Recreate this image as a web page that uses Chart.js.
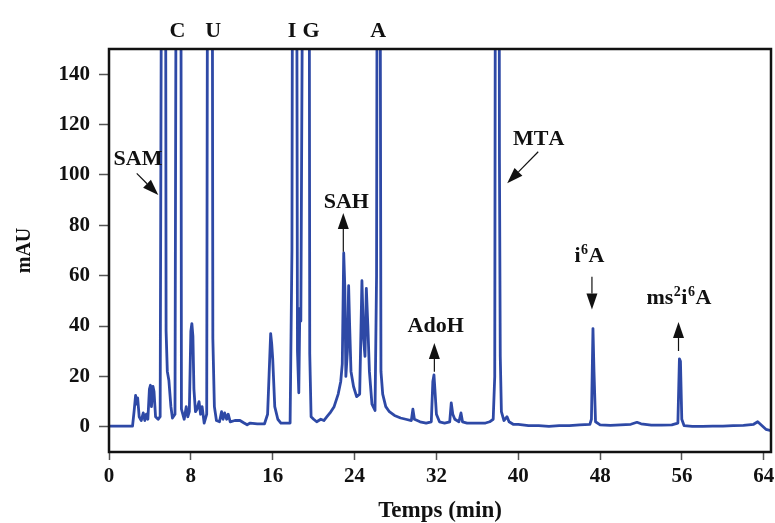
<!DOCTYPE html>
<html>
<head>
<meta charset="utf-8">
<script src="https://cdn.jsdelivr.net/npm/chart.js@4.4.1/dist/chart.umd.min.js"></script>
<style>
  html, body { margin: 0; padding: 0; background: #fff; }
  #chrom { display: block; }
</style>
</head>
<body>
<canvas id="chrom" width="775" height="523"></canvas>
<script>
// retention time (min) and absorbance (mAU)
const timeMin = [
  0, 2.3, 2.45, 2.6, 2.7, 2.8, 2.95, 3.15, 3.35, 3.5, 3.65, 3.8, 3.95, 4.05, 4.15, 4.3, 4.4, 4.55, 4.8, 5.0,
  5.2, 5.5, 5.58, 5.7, 5.85, 6.05, 6.2, 6.45,
  6.62, 7.0, 7.08, 7.35, 7.55, 7.7, 7.85, 8.0, 8.1, 8.2, 8.3, 8.45, 8.6, 8.8, 8.95, 9.1, 9.3, 9.55,
  9.67, 10.06, 10.15, 10.3, 10.5, 10.8, 11.0, 11.15, 11.3, 11.5, 11.65, 11.85, 12.3, 12.8, 13.2, 13.5, 13.8, 14.5, 15.2,
  15.5, 15.65, 15.8, 15.9, 16.0, 16.2, 16.5, 16.8, 17.7, 17.88,
  17.98, 18.3, 18.42, 18.55, 18.65, 18.75, 19.05, 19.54, 19.62, 19.75,
  20.0, 20.3, 20.7, 21.0, 21.3, 21.6, 22.0, 22.4, 22.65, 22.8, 22.94, 23.05, 23.15, 23.3, 23.42, 23.52, 23.65, 23.9,
  24.2, 24.5, 24.72, 24.88, 25.02, 25.15, 25.3, 25.45, 25.7, 26.0, 26.15,
  26.25, 26.45, 26.58, 26.75, 27.05, 27.4, 27.9, 28.5, 29.0, 29.55, 29.7, 29.85, 30.4, 31.0, 31.5,
  31.65, 31.76, 31.85, 32.0, 32.3, 32.8, 33.3, 33.45, 33.6, 33.8, 34.2, 34.4, 34.55, 35.0, 36.0, 36.8, 37.2, 37.55, 37.7,
  37.8, 38.1, 38.16, 38.24, 38.35, 38.6, 38.9, 39.1, 39.5, 40, 41, 42, 43, 44, 45, 46, 47,
  47.15, 47.3, 47.4, 47.55, 48, 49, 50, 51, 51.6, 52, 53, 54, 55, 55.6,
  55.75, 55.85, 55.98, 56.2, 57, 58, 59, 60, 61, 62, 63, 63.4, 63.8, 64.2, 64.7
];
const absMau = [
  0.3, 0.3, 6, 12.5, 9, 11.5, 4, 2.5, 5.5, 2.5, 5, 3, 15, 16.5, 8, 16, 14, 4, 3, 4,
  300, 300, 38, 22, 18.5, 8, 3.5, 5,
  300, 300, 7, 3, 8, 4, 6, 38, 41, 36, 15, 6, 7, 10, 5, 8, 1.5, 5,
  300, 300, 35, 8, 2.5, 2, 6, 3, 5.5, 3, 5, 2, 2.5, 2.5, 1.5, 0.8, 1.5, 1.2, 1.2,
  5, 21, 37, 33, 27, 8, 3, 1.5, 1.5, 70,
  300, 300, 30, 13.5, 47, 42, 300, 300, 29, 4,
  3, 2, 3, 2.5, 4, 5.5, 8, 13, 18, 25, 69, 55, 20, 30, 56, 40, 22, 16,
  12, 13, 58, 35, 28, 55, 40, 22, 9, 6.5, 60,
  300, 300, 22, 13, 8, 6, 4.5, 3.5, 3, 2.5, 7, 3, 2, 1.5, 2,
  18, 20.6, 15, 5, 2, 1.5, 2, 9.5, 5, 3, 2, 5.5, 2, 1.5, 1.5, 1.5, 2, 3, 20,
  300, 300, 106, 28, 6, 2.5, 4, 2, 1, 1, 0.5, 0.5, 0.2, 0.5, 0.5, 0.8, 1,
  3, 39, 22, 2, 0.8, 0.6, 0.8, 1, 1.8, 1.2, 0.7, 0.7, 0.8, 1.5,
  27, 26, 3, 0.5, 0.2, 0.2, 0.3, 0.3, 0.5, 0.6, 1, 2, 0.5, -1, -1.5
];

const xTicks = [0, 8, 16, 24, 32, 40, 48, 56, 64];
const yTicks = [0, 20, 40, 60, 80, 100, 120, 140];

// peak names written above the frame
const topNames = ['C', 'U', 'I', 'G', 'A'];
const topNameTimes = [6.69, 10.19, 17.88, 19.74, 26.32];

// arrowed labels ('^' marks a superscript character)
const noteTexts = ['SAM', 'SAH', 'AdoH', 'MTA', 'i^6A', 'ms^2i^6A'];
const noteX = [2.83, 23.19, 31.93, 41.99, 46.95, 55.7];
const noteY = [106.9, 89.7, 40.8, 114.8, 68.3, 51.6];
const arrowFrom = [[2.71, 100.6], [22.9, 69.5], [31.8, 21.9], [41.95, 109.2], [47.2, 59.6], [55.66, 30.1]];
const arrowTo = [[4.82, 92.0], [22.9, 84.9], [31.8, 33.3], [38.92, 96.7], [47.2, 46.6], [55.66, 41.6]];

const serif = "'Liberation Serif', 'DejaVu Serif', serif";
const lineBlue = '#2e49a6';

function drawRich(ctx, text, cx, baseY) {
  // split into normal / superscript pieces
  const parts = [];
  for (let i = 0; i < text.length; i++) {
    if (text[i] === '^') { parts.push({ t: text[i + 1], sup: true }); i++; }
    else parts.push({ t: text[i], sup: false });
  }
  const big = 'bold 22px ' + serif, small = 'bold 14px ' + serif;
  let total = 0;
  parts.forEach(p => {
    ctx.font = p.sup ? small : big;
    p.w = ctx.measureText(p.t).width + (p.sup ? 1 : 0);
    total += p.w;
  });
  let x = cx - total / 2;
  parts.forEach(p => {
    ctx.font = p.sup ? small : big;
    ctx.fillText(p.t, p.sup ? x + 0.5 : x, p.sup ? baseY - 8 : baseY);
    x += p.w;
  });
}

function drawArrow(ctx, x1, y1, x2, y2) {
  const ang = Math.atan2(y2 - y1, x2 - x1);
  const head = 16, half = 5.5;
  const bx = x2 - head * Math.cos(ang), by = y2 - head * Math.sin(ang);
  ctx.lineWidth = 1.2;
  ctx.beginPath();
  ctx.moveTo(x1, y1);
  ctx.lineTo(bx, by);
  ctx.stroke();
  ctx.beginPath();
  ctx.moveTo(x2, y2);
  ctx.lineTo(bx + half * Math.sin(ang), by - half * Math.cos(ang));
  ctx.lineTo(bx - half * Math.sin(ang), by + half * Math.cos(ang));
  ctx.closePath();
  ctx.fill();
}

const framePlugin = {
  id: 'frameAndNotes',
  afterDatasetsDraw(chart) {
    const { ctx, chartArea: a, scales: { x, y } } = chart;
    ctx.save();
    ctx.strokeStyle = '#111';
    ctx.lineWidth = 2.5;
    ctx.strokeRect(a.left, a.top, a.right - a.left, a.bottom - a.top);

    ctx.fillStyle = '#111';
    ctx.textAlign = 'left';
    ctx.textBaseline = 'alphabetic';
    topNames.forEach((n, i) => {
      drawRich(ctx, n, x.getPixelForValue(topNameTimes[i]), a.top - 12);
    });
    noteTexts.forEach((n, i) => {
      drawRich(ctx, n, x.getPixelForValue(noteX[i]), y.getPixelForValue(noteY[i]) + 7.5);
    });
    arrowFrom.forEach((f, i) => {
      const t = arrowTo[i];
      drawArrow(ctx, x.getPixelForValue(f[0]), y.getPixelForValue(f[1]),
        x.getPixelForValue(t[0]), y.getPixelForValue(t[1]));
    });
    ctx.restore();
  }
};

new Chart(document.getElementById('chrom'), {
  type: 'line',
  data: {
    datasets: [{
      label: 'UV 260 nm',
      data: timeMin.map((t, i) => ({ x: t, y: absMau[i] })),
      borderColor: lineBlue,
      borderWidth: 2.8,
      borderJoinStyle: 'round',
      pointRadius: 0,
      tension: 0,
      fill: false,
      clip: 0
    }]
  },
  options: {
    responsive: false,
    animation: false,
    devicePixelRatio: 1,
    layout: { padding: { top: 49, right: 4, left: 0, bottom: 0 } },
    plugins: {
      legend: { display: false },
      tooltip: { enabled: false }
    },
    scales: {
      x: {
        type: 'linear',
        min: 0,
        max: 64.7,
        afterBuildTicks: s => { s.ticks = xTicks.map(v => ({ value: v })); },
        afterFit: s => { s.height = 71; s.paddingLeft = 0; s.paddingRight = 0; },
        border: { display: false },
        grid: { drawOnChartArea: false, drawTicks: true, tickLength: 8, tickColor: '#555', tickWidth: 1.5 },
        ticks: { color: '#111', padding: 4, maxRotation: 0, autoSkip: false, font: { family: serif, size: 21, weight: 'bold' } },
        title: { display: true, text: 'Temps (min)', color: '#111', padding: 0, font: { family: serif, size: 23, weight: 'bold', lineHeight: 1 } }
      },
      y: {
        min: -10,
        max: 150,
        afterBuildTicks: s => { s.ticks = yTicks.map(v => ({ value: v })); },
        afterFit: s => { s.width = 109; s.paddingTop = 0; s.paddingBottom = 0; },
        border: { display: false },
        grid: { drawOnChartArea: false, drawTicks: true, tickLength: 10, tickColor: '#555', tickWidth: 1.5 },
        ticks: { color: '#111', padding: 9, font: { family: serif, size: 21, weight: 'bold' } },
        title: { display: true, text: 'mAU', color: '#111', padding: { top: 13, bottom: 0 }, font: { family: serif, size: 20, weight: 'bold' } }
      }
    }
  },
  plugins: [framePlugin]
});
</script>
</body>
</html>
